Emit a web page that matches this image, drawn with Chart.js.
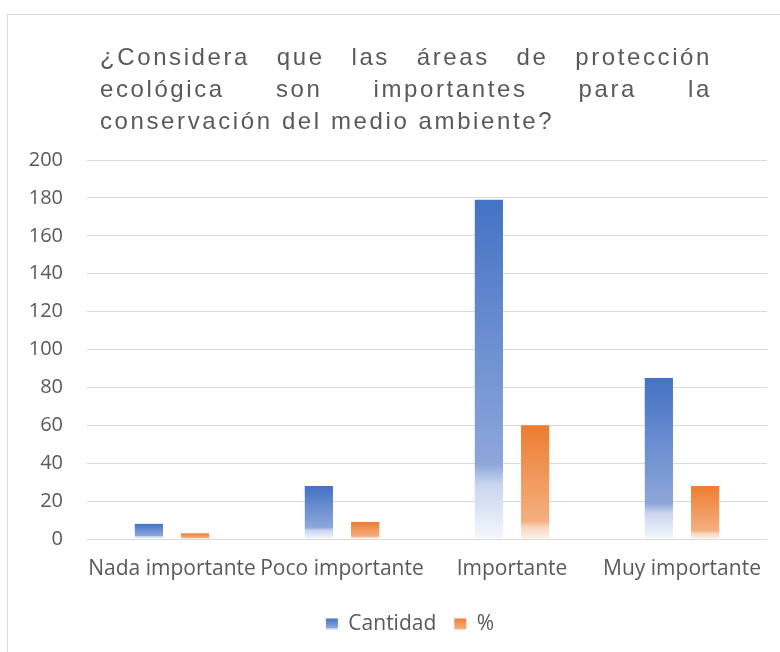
<!DOCTYPE html>
<html>
<head>
<meta charset="utf-8">
<script src="https://cdn.jsdelivr.net/npm/chart.js@4.4.1/dist/chart.umd.min.js"></script>
<style>
  html, body { margin: 0; padding: 0; background: #ffffff; }
  body { width: 780px; height: 652px; position: relative; overflow: hidden; }
  #frame { position: absolute; left: 7px; top: 14px; width: 900px; height: 800px;
           border-left: 1px solid #d9d9d9; border-top: 1px solid #d9d9d9; }
  #title { position: absolute; left: 100px; top: 41px; width: 612px;
           font-family: "Liberation Sans", Arial, sans-serif; font-size: 24px;
           line-height: 32px; color: #595959; letter-spacing: 2.6px; }
  #title .j { text-align: justify; text-align-last: justify; }
  #title .l { text-align: left; }
  #wrap { position: absolute; left: 0; top: 0; width: 780px; height: 652px; }
</style>
</head>
<body>
<div id="frame"></div>
<div id="wrap"><canvas id="c"></canvas></div>
<div id="title">
  <div class="j">¿Considera que las áreas de protección</div>
  <div class="j">ecológica son importantes para la</div>
  <div class="l">conservación del medio ambiente?</div>
</div>
<script>
const categories = ["Nada importante", "Poco importante", "Importante", "Muy importante"];
const cantidad = [8, 28, 179, 85];
const porcentaje = [3, 9, 60, 28];
const seriesNames = ["Cantidad", "%"];
const yTicks = [0, 20, 40, 60, 80, 100, 120, 140, 160, 180, 200];

const blueStops = [[0, "#4472C4"], [0.78, "#8DA7DA"], [0.84, "#C9D6EF"], [1, "#F4F7FC"]];
const orangeStops = [[0, "#ED7D31"], [0.84, "#F4AF80"], [0.9, "#F9D7C0"], [1, "#FDF1E9"]];

function makeGrad(ctx2d, top, bottom, stops) {
  const g = ctx2d.createLinearGradient(0, top, 0, bottom);
  stops.forEach(s => g.addColorStop(s[0], s[1]));
  return g;
}
function barFill(stops, solid) {
  return function(c) {
    const chart = c.chart;
    if (!chart.chartArea || c.type !== 'data' || !chart.scales.y) return solid;
    const y = chart.scales.y;
    const top = y.getPixelForValue(c.raw);
    const base = y.getPixelForValue(0);
    if (!isFinite(top) || !isFinite(base) || base - top < 0.5) return solid;
    return makeGrad(chart.ctx, top, base, stops);
  };
}

const LEGEND_SHIFT = 23;
const legendGradPlugin = {
  id: 'legendGrad',
  beforeDraw(chart) {
    const lg = chart.legend;
    if (!lg || lg._shifted) return;
    lg.left += LEGEND_SHIFT;
    lg.right += LEGEND_SHIFT;
    (lg.legendHitBoxes || []).forEach(hb => { hb.left += LEGEND_SHIFT; });
    lg._shifted = true;
  },
  afterDraw(chart) {
    const lg = chart.legend;
    if (!lg || !lg.legendHitBoxes) return;
    const ctx = chart.ctx;
    const stopsList = [blueStops, orangeStops];
    lg.legendHitBoxes.forEach((hb, i) => {
      const bw = 12, bh = 12;
      const x = hb.left;
      const y = hb.top + (hb.height - bh) / 2;
      ctx.save();
      ctx.fillStyle = "#ffffff";
      ctx.fillRect(x - 0.5, y - 0.5, bw + 1, bh + 1);
      ctx.fillStyle = makeGrad(ctx, y, y + bh, stopsList[i]);
      ctx.fillRect(x, y, bw, bh);
      ctx.restore();
    });
  }
};

new Chart(document.getElementById('c'), {
  type: 'bar',
  data: {
    labels: categories,
    datasets: [
      { label: seriesNames[0], data: cantidad, backgroundColor: barFill(blueStops, "#4472C4"), borderWidth: 0 },
      { label: seriesNames[1], data: porcentaje, backgroundColor: barFill(orangeStops, "#ED7D31"), borderWidth: 0 }
    ]
  },
  plugins: [legendGradPlugin],
  options: {
    responsive: true,
    maintainAspectRatio: false,
    animation: false,
    devicePixelRatio: 1,
    categoryPercentage: 0.544,
    barPercentage: 0.61,
    layout: { padding: { left: 7, right: 13, top: 160, bottom: 7 } },
    plugins: {
      title: { display: false },
      tooltip: { enabled: false },
      legend: {
        position: 'bottom',
        labels: {
          boxWidth: 12, boxHeight: 12, padding: 18,
          color: "#595959",
          font: { family: "'Open Sans', sans-serif", size: 21 }
        }
      }
    },
    scales: {
      x: {
        afterFit(scale) { scale.height = 57; },
        grid: { display: false, drawTicks: false },
        border: { display: false },
        ticks: { color: "#595959", font: { family: "'Open Sans', sans-serif", size: 21 }, padding: 17, maxRotation: 0, autoSkip: false }
      },
      y: {
        min: 0, max: 200,
        afterFit(scale) { scale.width = 80; },
        afterBuildTicks(scale) { scale.ticks = yTicks.map(v => ({ value: v })); },
        grid: { color: "#d9d9d9", lineWidth: 1, drawTicks: false },
        border: { display: false },
        ticks: { color: "#595959", font: { family: "'Open Sans', sans-serif", size: 20 }, padding: 24 }
      }
    }
  }
});
</script>
</body>
</html>
